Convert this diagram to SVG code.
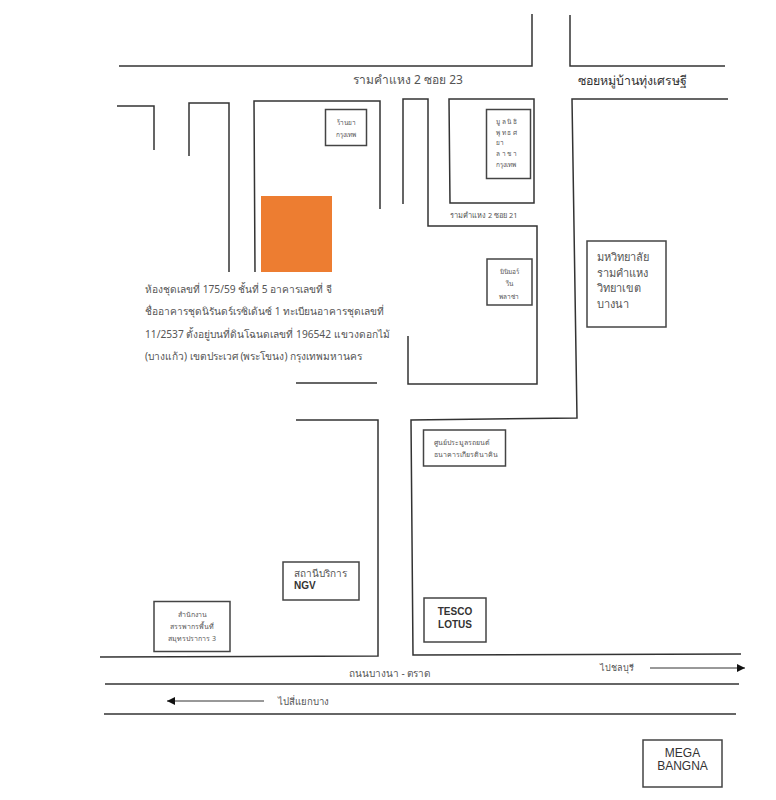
<svg xmlns="http://www.w3.org/2000/svg" width="776" height="800" viewBox="0 0 776 800">
<defs>
<marker id="ah" markerUnits="userSpaceOnUse" markerWidth="9" markerHeight="8" refX="8" refY="4" orient="auto"><path d="M0 0L8 4L0 8Z" fill="#111"/></marker>
</defs>
<style>
text{font-family:"Noto Sans","Liberation Sans","DejaVu Sans",sans-serif;fill:#555}
.l{fill:none;stroke:#333;stroke-width:1.5}
.b rect{fill:#fff;stroke:#444;stroke-width:1.5}
.a{fill:none;stroke:#333;stroke-width:1;marker-end:url(#ah)}
.s6{font-size:6.500px}.s7{font-size:7px}.s9{font-size:9px}.s10{font-size:10px}.ad{font-size:10.200px}.s11{font-size:11px}.s12{font-size:12px}
.e{fill:#333;font-family:"Liberation Sans",sans-serif}
</style>
<rect width="776" height="800" fill="#fff"/>
<g id="connectors">
<path class="l" d="M119 66H532V14"/>
<path class="l" d="M570 15V66H725"/>
<path class="l" d="M117 106H154V150"/>
<path class="l" d="M189 156V103H229V272"/>
<path class="l" d="M255 272L254 101H380V209"/>
<path class="l" d="M403 204V99H428V226H537V384H408V336"/>
<path class="l" d="M449 99H534V203H450Z"/>
<path class="l" d="M728 99H572L577 418L411 420L413 655L741 654"/>
<path class="l" d="M296 420H378V656L100 657"/>
<path class="l" d="M296 383H377"/>
<path class="l" d="M105 684H739"/>
<path class="l" d="M104 714H736"/>
<path class="a" d="M650 668H745"/>
<path class="a" d="M264 701H167"/>
</g>
<g id="site"><rect x="261" y="196" width="71" height="76" fill="#ed7d31"/></g>
<g id="road-ramkhamhaeng-23"><text font-size="12" x="353" y="84">รามคำแหง 2 ซอย 23</text></g>
<g id="road-village"><text font-size="12.400" x="578" y="85" style="fill:#333">ซอยหมู่บ้านทุ่งเศรษฐี</text></g>
<g id="road-ramkhamhaeng-21"><text font-size="7.400" x="450" y="218">รามคำแหง 2 ซอย 21</text></g>
<g id="road-bangna"><text class="s10" x="349" y="677">ถนนบางนา - ตราด</text></g>
<g id="to-chonburi"><text class="s9" x="600" y="671">ไปชลบุรี</text></g>
<g id="to-junction"><text font-size="9.600" x="278" y="705">ไปสี่แยกบาง</text></g>
<g id="address">
<text class="ad" x="145" y="293">ห้องชุดเลขที่ 175/59 ชั้นที่ 5 อาคารเลขที่ จี</text>
<text class="ad" x="145" y="315">ชื่ออาคารชุดนิรันดร์เรซิเด้นซ์ 1 ทะเบียนอาคารชุดเลขที่</text>
<text class="ad" x="145" y="338">11/2537 ตั้งอยู่บนที่ดินโฉนดเลขที่ 196542 แขวงดอกไม้</text>
<text class="ad" x="145" y="360">(บางแก้ว) เขตประเวศ (พระโขนง) กรุงเทพมหานคร</text>
</g>
<g id="pharmacy" class="b"><rect x="325.500" y="109.500" width="41" height="36"/><text class="s6" x="346" y="125" text-anchor="middle">ร้านยา</text><text class="s6" x="346" y="137" text-anchor="middle">กรุงเทพ</text></g>
<g id="foundation" class="b"><rect x="486.500" y="109.500" width="44" height="69"/><text class="s6" x="496" y="124">มู ล นิ ธิ</text><text class="s6" x="496" y="135">พุ ท ธ ศ</text><text class="s6" x="496" y="145">ยา</text><text class="s6" x="496" y="156">ล า ช า</text><text class="s6" x="496" y="167">กรุงเทพ</text></g>
<g id="minimart" class="b"><rect x="487" y="259" width="45" height="46"/><text class="s6" x="509" y="274" text-anchor="middle">มินิมอร์</text><text class="s6" x="509" y="286" text-anchor="middle">รีน</text><text class="s6" x="509" y="299" text-anchor="middle">พลาซ่า</text></g>
<g id="university" class="b"><rect x="587" y="241" width="79" height="86"/><text class="s11" x="597" y="261">มหวิทยาลัย</text><text class="s11" x="597" y="277">รามคำแหง</text><text class="s11" x="597" y="292">วิทยาเขต</text><text class="s11" x="597" y="308">บางนา</text></g>
<g id="auction" class="b"><rect x="423.500" y="430" width="82" height="36"/><text class="s7" x="434" y="445">ศูนย์ประมูลรถยนต์</text><text class="s7" x="434" y="457">ธนาคารเกียรตินาคิน</text></g>
<g id="ngv" class="b"><rect x="283" y="562" width="76" height="38"/><text class="s10" x="294" y="577">สถานีบริการ</text><text class="s10 e" x="294" y="589" font-weight="bold">NGV</text></g>
<g id="revenue" class="b"><rect x="154" y="601.500" width="76" height="50"/><text class="s7" x="192" y="617" text-anchor="middle">สำนักงาน</text><text class="s7" x="192" y="629" text-anchor="middle">สรรพากรพื้นที่</text><text class="s7" x="192" y="641" text-anchor="middle">สมุทรปราการ 3</text></g>
<g id="tesco" class="b"><rect x="424" y="598" width="62" height="44"/><text class="s10 e" x="455" y="615" text-anchor="middle" font-weight="bold">TESCO</text><text class="s10 e" x="455" y="628" text-anchor="middle" font-weight="bold">LOTUS</text></g>
<g id="mega" class="b"><rect x="643" y="740" width="79" height="47"/><text class="s12 e" x="682.500" y="757" text-anchor="middle">MEGA</text><text class="s12 e" x="682.500" y="770" text-anchor="middle">BANGNA</text></g>
</svg>
